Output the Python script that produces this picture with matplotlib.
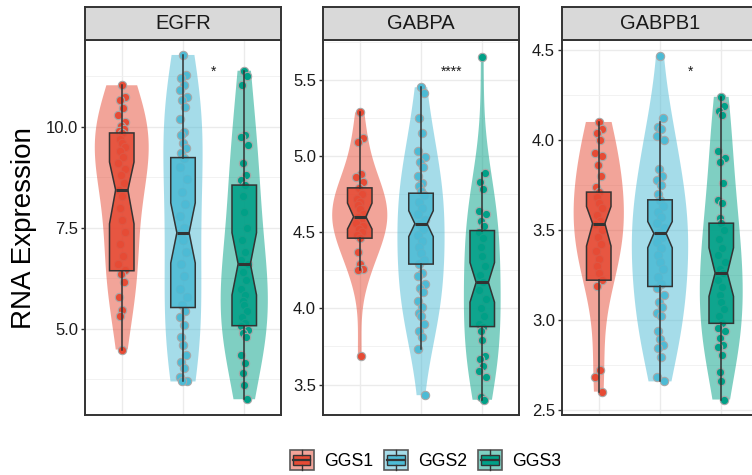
import numpy as np
import matplotlib
matplotlib.use('Agg')
import matplotlib.pyplot as plt
from matplotlib.patches import Rectangle, Patch
from matplotlib.lines import Line2D
from matplotlib.legend_handler import HandlerBase
from matplotlib.ticker import MultipleLocator, FormatStrFormatter
from matplotlib.colors import to_rgba

plt.rcParams['font.family'] = ['Liberation Sans', 'DejaVu Sans']

GENES = ['EGFR', 'GABPA', 'GABPB1']
GROUPS = ['GGS1', 'GGS2', 'GGS3']
COLORS = ['#E64B35', '#4DBBD5', '#00A087']
SIG_LABELS = ['*', '****', '*']

# expression values
EGFR_GGS1 = [11.03, 10.74, 10.66, 10.46, 10.3, 10.12, 10.02, 9.95, 9.9, 9.85, 9.7, 9.6, 9.5,
             9.4, 9.26, 9.1, 8.95, 8.8, 8.6, 8.44, 8.3, 8.0, 7.7, 7.4, 7.1, 6.8, 6.6, 6.45,
             6.37, 6.15, 5.78, 5.47, 5.32, 4.49]
EGFR_GGS2 = [11.78, 11.29, 11.2, 11.04, 10.92, 10.75, 10.66, 10.5, 10.2, 9.88, 9.8, 9.6, 9.47,
             9.35, 9.24, 9.0, 8.7, 8.4, 8.1, 7.8, 7.5, 7.38, 7.2, 6.9, 6.6, 6.3, 6.0, 5.8, 5.6,
             5.45, 5.30, 5.1, 4.81, 4.6, 4.36, 4.19, 4.03, 3.82, 3.70, 3.72]
EGFR_GGS3 = [11.39, 11.25, 11.04, 9.8, 9.75, 9.55, 9.1, 8.8, 8.69, 8.56, 8.3, 7.9, 7.5, 7.2,
             6.9, 6.7, 6.61, 6.4, 6.2, 6.0, 5.85, 5.7, 5.6, 5.45, 5.3, 5.15, 5.08, 4.98, 4.9,
             4.8, 4.36, 4.16, 3.9, 3.61, 3.26]

GABPA_GGS1 = [5.285, 5.12, 5.09, 4.88, 4.86, 4.83, 4.79, 4.75, 4.72, 4.70, 4.68, 4.65, 4.62,
              4.60, 4.58, 4.56, 4.54, 4.52, 4.50, 4.48, 4.46, 4.37, 4.29, 4.26, 4.25, 3.69]
GABPA_GGS2 = [5.45, 5.41, 5.25, 5.15, 5.03, 4.99, 4.96, 4.93, 4.87, 4.82, 4.80, 4.77, 4.74,
              4.70, 4.66, 4.62, 4.58, 4.555, 4.52, 4.48, 4.44, 4.40, 4.36, 4.32, 4.29, 4.23,
              4.21, 4.16, 4.13, 4.11, 4.05, 4.01, 3.97, 3.95, 3.90, 3.85, 3.81, 3.73, 3.43]
GABPA_GGS3 = [5.65, 4.89, 4.83, 4.78, 4.64, 4.62, 4.57, 4.54, 4.50, 4.46, 4.40, 4.34, 4.28,
              4.22, 4.17, 4.12, 4.06, 4.00, 3.95, 3.90, 3.88, 3.85, 3.79, 3.69, 3.67, 3.62,
              3.59, 3.55, 3.42, 3.40]

GABPB1_GGS1 = [4.10, 4.06, 4.04, 4.0, 3.93, 3.91, 3.86, 3.80, 3.74, 3.71, 3.68, 3.65, 3.62,
               3.58, 3.55, 3.53, 3.50, 3.46, 3.42, 3.38, 3.34, 3.30, 3.26, 3.22, 3.19, 2.72,
               2.68, 2.60]
GABPB1_GGS2 = [4.467, 4.12, 4.07, 4.06, 4.02, 4.0, 3.84, 3.80, 3.78, 3.75, 3.70, 3.667, 3.63,
               3.60, 3.57, 3.54, 3.51, 3.48, 3.46, 3.43, 3.40, 3.36, 3.32, 3.28, 3.24, 3.20,
               3.175, 3.14, 3.10, 3.07, 3.04, 3.02, 2.94, 2.89, 2.86, 2.84, 2.79, 2.68, 2.657]
GABPB1_GGS3 = [4.24, 4.19, 4.16, 4.14, 3.94, 3.90, 3.88, 3.76, 3.667, 3.65, 3.565, 3.537, 3.50,
               3.45, 3.40, 3.36, 3.32, 3.28, 3.26, 3.22, 3.18, 3.14, 3.10, 3.06, 3.02, 2.98,
               2.954, 2.94, 2.90, 2.86, 2.85, 2.806, 2.71, 2.657, 2.556]

POINTS = [[EGFR_GGS1, EGFR_GGS2, EGFR_GGS3],
          [GABPA_GGS1, GABPA_GGS2, GABPA_GGS3],
          [GABPB1_GGS1, GABPB1_GGS2, GABPB1_GGS3]]

# box statistics per gene (GGS1, GGS2, GGS3)
MEDIANS = [[8.44, 7.38, 6.61], [4.60, 4.555, 4.17], [3.535, 3.48, 3.26]]
Q1S = [[6.44, 5.53, 5.08], [4.46, 4.29, 3.88], [3.22, 3.185, 2.98]]
Q3S = [[9.85, 9.24, 8.56], [4.79, 4.755, 4.51], [3.71, 3.667, 3.537]]
WHISLO = [[4.49, 3.70, 3.26], [4.25, 3.73, 3.40], [2.60, 2.657, 2.556]]
WHISHI = [[11.03, 11.78, 11.39], [5.285, 5.45, 4.89], [4.10, 4.10, 4.24]]
NOTCH_LO = [[7.60, 6.63, 5.84], [4.52, 4.47, 4.04], [3.41, 3.40, 3.13]]
NOTCH_HI = [[9.13, 8.12, 7.38], [4.69, 4.64, 4.30], [3.63, 3.546, 3.40]]

YLIMS = [(2.87, 12.15), (3.30, 5.76), (2.47, 4.556)]
YSTEPS = [2.5, 0.5, 0.5]
VIOLIN_WIDTHS = [[0.88, 0.64, 0.77], [0.9, 0.77, 0.6], [0.82, 0.92, 0.7]]
JITTER = [0.0, 0.05, -0.035, 0.02, -0.055, 0.06, -0.015, 0.035, -0.045, 0.01, -0.025]

DARK = '#333333'


class BoxKeyHandler(HandlerBase):
    # legend key: violin square with a box drawn on top
    def create_artists(self, legend, orig_handle, xdescent, ydescent, width, height, fontsize, trans):
        c = orig_handle.get_facecolor()
        x0, y0 = -xdescent, -ydescent
        outer = Rectangle((x0, y0), width, height, facecolor=to_rgba(c, 0.5),
                          edgecolor='#595959', lw=1.2, transform=trans)
        inner = Rectangle((x0 + 0.13 * width, y0 + 0.27 * height), 0.74 * width, 0.46 * height,
                          facecolor=c, edgecolor=DARK, lw=1.0, transform=trans)
        mid = Line2D([x0 + 0.13 * width, x0 + 0.87 * width], [y0 + 0.5 * height] * 2,
                     color=DARK, lw=1.6, transform=trans)
        wl = Line2D([x0 + 0.5 * width] * 2, [y0, y0 + 0.27 * height], color=DARK, lw=1.0, transform=trans)
        wh = Line2D([x0 + 0.5 * width] * 2, [y0 + 0.73 * height, y0 + height], color=DARK, lw=1.0,
                    transform=trans)
        return [outer, inner, mid, wl, wh]


W, H = 752, 475
fig = plt.figure(figsize=(W / 100, H / 100), dpi=100)
lefts = [85, 323, 562]
pos = [1, 2, 3]

for g, gene in enumerate(GENES):
    ax = fig.add_axes([lefts[g] / W, 1 - 415 / H, 196 / W, 375 / H])

    # violins
    vp = ax.violinplot(POINTS[g], positions=pos, widths=VIOLIN_WIDTHS[g], showextrema=False,
                       bw_method=0.6)
    for body, c in zip(vp['bodies'], COLORS):
        body.set_facecolor(c)
        body.set_edgecolor('none')
        body.set_alpha(0.5)
        body.set_zorder(1)

    # jittered points
    for i, vals in enumerate(POINTS[g]):
        offs = np.resize(JITTER, len(vals))
        ax.scatter(pos[i] + offs, vals, s=36, color=COLORS[i], edgecolor='#A8A8A8',
                   linewidth=0.8, zorder=2)

    # notched boxes
    stats = []
    for i in range(3):
        stats.append(dict(med=MEDIANS[g][i], q1=Q1S[g][i], q3=Q3S[g][i], whislo=WHISLO[g][i],
                          whishi=WHISHI[g][i], cilo=NOTCH_LO[g][i], cihi=NOTCH_HI[g][i]))
    bp = ax.bxp(stats, positions=pos, widths=0.4, shownotches=True, patch_artist=True,
                showfliers=False, showcaps=False, manage_ticks=False, zorder=3,
                boxprops=dict(edgecolor=DARK, linewidth=1.1),
                whiskerprops=dict(color=DARK, linewidth=1.1),
                medianprops=dict(color=DARK, linewidth=2.2))
    for box, c in zip(bp['boxes'], COLORS):
        box.set_facecolor(to_rgba(c, 0.88))

    ax.text(2.5, 0.915, SIG_LABELS[g], transform=ax.get_xaxis_transform(),
            ha='center', va='center', fontsize=10, color='#1A1A1A')

    ax.set_xlim(0.4, 3.6)
    ax.set_ylim(*YLIMS[g])
    ax.set_xticks(pos)
    ax.set_xticklabels([])
    ax.tick_params(axis='x', length=0)
    ax.yaxis.set_major_locator(MultipleLocator(YSTEPS[g]))
    ax.yaxis.set_minor_locator(MultipleLocator(YSTEPS[g] / 2))
    ax.yaxis.set_major_formatter(FormatStrFormatter('%.1f'))
    ax.tick_params(axis='y', which='major', length=3, width=1.0, color=DARK, pad=2,
                   labelsize=12, labelcolor='#1A1A1A')
    ax.tick_params(axis='y', which='minor', length=0)
    ax.grid(which='major', color='#EBEBEB', lw=1.0)
    ax.grid(which='minor', axis='y', color='#F0F0F0', lw=0.6)
    ax.set_axisbelow(True)
    for sp in ax.spines.values():
        sp.set_color(DARK)
        sp.set_linewidth(1.4)

    # facet strip
    strip = fig.add_axes([lefts[g] / W, 1 - 40 / H, 196 / W, 33 / H])
    strip.set_facecolor('#D9D9D9')
    strip.set_xticks([])
    strip.set_yticks([])
    for sp in strip.spines.values():
        sp.set_color(DARK)
        sp.set_linewidth(1.4)
    strip.text(0.5, 0.5, gene, ha='center', va='center', fontsize=14.5, color='#1A1A1A',
               transform=strip.transAxes)

fig.text(24 / W, 1 - 228 / H, 'RNA Expression', rotation=90, ha='center', va='center', fontsize=20)

handles = [Patch(facecolor=c) for c in COLORS]
fig.legend(handles, GROUPS, loc='center', bbox_to_anchor=(425.5 / W, 1 - 460 / H), ncol=3,
           frameon=False, fontsize=12.7, handlelength=1.35, handleheight=1.35,
           handletextpad=0.6, columnspacing=0.6, handler_map={Patch: BoxKeyHandler()})

fig.savefig('out.png', dpi=100)
